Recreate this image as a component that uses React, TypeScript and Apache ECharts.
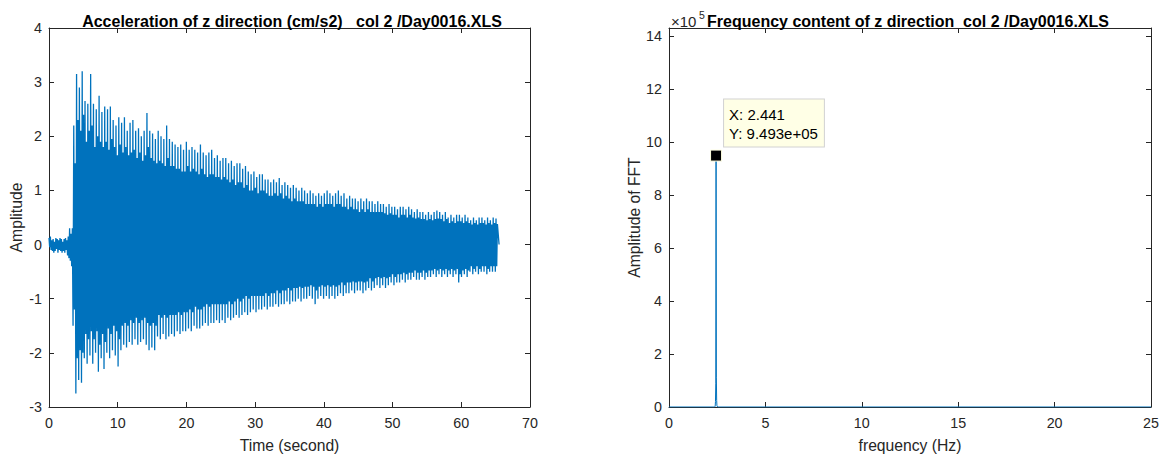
import React, { useEffect, useRef } from "react";
import * as echarts from "echarts";

// ---------- Left panel: acceleration record ----------
// Pre-event noise, sampled every 0.1 s from t = 0 s
const quietStep = 0.1;
const quietNoise = [
  0.12, -0.05, 0.15, -0.1, 0.08, -0.12, 0.1, -0.15, 0.05, -0.12,
  0.12, -0.08, 0.1, -0.15, 0.08, -0.1, 0.12, -0.12, 0.1, -0.15,
  0.05, -0.12, 0.1, -0.15, 0.12, -0.1, 0.08, -0.2, 0.15, -0.25,
  0.3, -0.3, 0.2, -0.4, 0.3,
];
// Extrema, per cycle of the 2.441 Hz response:
// outer trough, outer peak, then the smaller inner dip and rise that fill the band's core
const cycleStart = 3.5;
const cycleFrequency = 2.441;
const troughs = [
  -1.5, -2.75, -2.5, -2.55, -2.1, -2.2, -2.05, -2.2, -2.0, -2.35,
  -2.1, -2.3, -2.0, -2.1, -1.95, -2.05, -2.25, -1.95, -1.85, -1.9,
  -1.8, -1.85, -1.75, -1.85, -1.8, -1.75, -1.85, -1.95, -1.9, -1.95,
  -1.7, -1.75, -1.65, -1.75, -1.7, -1.65, -1.7, -1.6, -1.65, -1.6,
  -1.6, -1.55, -1.6, -1.5, -1.55, -1.55, -1.5, -1.45, -1.5, -1.45,
  -1.45, -1.4, -1.45, -1.4, -1.45, -1.35, -1.4, -1.35, -1.3, -1.35,
  -1.3, -1.25, -1.3, -1.25, -1.2, -1.25, -1.2, -1.2, -1.15, -1.2,
  -1.15, -1.15, -1.1, -1.15, -1.1, -1.1, -1.05, -1.1, -1.05, -1.05,
  -1.0, -1.05, -1.0, -1.0, -0.95, -1.0, -1.1, -1.0, -0.95, -1.0,
  -0.95, -1.0, -0.95, -1.0, -0.95, -0.9, -0.95, -0.9, -0.9, -0.85,
  -0.9, -0.85, -0.85, -0.9, -0.85, -0.8, -0.85, -0.8, -0.75, -0.8,
  -0.75, -0.8, -0.75, -0.7, -0.75, -0.7, -0.7, -0.65, -0.7, -0.65,
  -0.65, -0.6, -0.65, -0.65, -0.6, -0.65, -0.6, -0.6, -0.55, -0.6,
  -0.55, -0.6, -0.55, -0.6, -0.55, -0.6, -0.55, -0.7, -0.6, -0.55,
  -0.6, -0.5, -0.55, -0.5, -0.55, -0.5, -0.5, -0.55, -0.5, -0.5,
  -0.5,
];
const peaks = [
  2.2, 3.15, 2.9, 3.2, 2.65, 2.6, 3.15, 2.6, 2.5, 2.75,
  2.45, 2.55, 2.5, 2.55, 2.3, 2.2, 2.35, 2.25, 2.35, 2.1,
  2.25, 2.3, 2.1, 2.15, 2.0, 2.1, 2.43, 2.1, 2.05, 1.95,
  2.1, 2.0, 1.95, 2.2, 1.95, 1.9, 1.85, 1.8, 1.85, 1.75,
  1.9, 1.75, 1.8, 1.75, 1.7, 1.85, 1.7, 1.65, 1.7, 1.75,
  1.6, 1.65, 1.55, 1.6, 1.6, 1.5, 1.55, 1.45, 1.5, 1.5,
  1.4, 1.45, 1.35, 1.3, 1.35, 1.25, 1.3, 1.3, 1.2, 1.2,
  1.15, 1.2, 1.15, 1.23, 1.1, 1.15, 1.1, 1.05, 1.1, 1.05,
  1.0, 1.05, 1.0, 0.95, 1.0, 0.95, 0.9, 0.95, 0.9, 0.95,
  1.0, 0.95, 0.9, 0.95, 1.0, 0.9, 0.95, 0.85, 0.9, 0.85,
  0.85, 0.8, 0.85, 0.8, 0.85, 0.8, 0.8, 0.75, 0.8, 0.75,
  0.75, 0.7, 0.75, 0.7, 0.7, 0.65, 0.7, 0.7, 0.65, 0.7,
  0.65, 0.6, 0.65, 0.6, 0.6, 0.55, 0.6, 0.55, 0.6, 0.63,
  0.6, 0.55, 0.6, 0.5, 0.55, 0.5, 0.55, 0.55, 0.5, 0.55,
  0.5, 0.45, 0.5, 0.45, 0.5, 0.5, 0.45, 0.5, 0.45, 0.5,
  0.48,
];
const innerLows = [
  -1.2, -2.1, -1.95, -2.0, -1.65, -1.75, -1.6, -1.75, -1.6, -1.85,
  -1.65, -1.8, -1.55, -1.65, -1.5, -1.6, -1.75, -1.5, -1.45, -1.5,
  -1.4, -1.45, -1.35, -1.45, -1.4, -1.35, -1.45, -1.5, -1.45, -1.5,
  -1.3, -1.35, -1.3, -1.35, -1.3, -1.3, -1.3, -1.25, -1.3, -1.25,
  -1.25, -1.2, -1.25, -1.15, -1.2, -1.2, -1.15, -1.1, -1.15, -1.1,
  -1.1, -1.1, -1.1, -1.1, -1.1, -1.05, -1.1, -1.05, -1.0, -1.05,
  -1.0, -0.95, -1.0, -0.95, -0.95, -0.95, -0.95, -0.95, -0.9, -0.95,
  -0.9, -0.9, -0.85, -0.9, -0.85, -0.85, -0.8, -0.85, -0.8, -0.8,
  -0.78, -0.8, -0.78, -0.78, -0.75, -0.78, -0.85, -0.78, -0.75, -0.78,
  -0.75, -0.78, -0.75, -0.78, -0.75, -0.7, -0.75, -0.7, -0.7, -0.68,
  -0.7, -0.68, -0.68, -0.7, -0.68, -0.62, -0.68, -0.62, -0.6, -0.62,
  -0.6, -0.62, -0.6, -0.55, -0.6, -0.55, -0.55, -0.52, -0.55, -0.52,
  -0.52, -0.48, -0.52, -0.52, -0.48, -0.52, -0.48, -0.48, -0.45, -0.48,
  -0.45, -0.48, -0.45, -0.48, -0.45, -0.48, -0.45, -0.55, -0.48, -0.45,
  -0.48, -0.4, -0.45, -0.4, -0.45, -0.4, -0.4, -0.45, -0.4, -0.4,
  -0.4,
];
const innerHighs = [
  1.5, 2.3, 2.1, 2.4, 1.9, 2.1, 2.2, 1.8, 2.0, 1.9,
  1.8, 1.9, 1.75, 1.95, 1.8, 1.65, 1.85, 1.7, 1.8, 1.65,
  1.7, 1.75, 1.6, 1.7, 1.55, 1.65, 1.8, 1.6, 1.55, 1.5,
  1.55, 1.5, 1.45, 1.6, 1.45, 1.45, 1.4, 1.4, 1.35, 1.35,
  1.45, 1.35, 1.4, 1.35, 1.3, 1.4, 1.3, 1.25, 1.3, 1.3,
  1.25, 1.25, 1.2, 1.25, 1.2, 1.15, 1.2, 1.1, 1.15, 1.15,
  1.05, 1.1, 1.0, 1.0, 1.05, 0.95, 1.0, 1.0, 0.95, 0.9,
  0.9, 0.95, 0.9, 0.95, 0.85, 0.9, 0.85, 0.8, 0.85, 0.8,
  0.8, 0.8, 0.75, 0.75, 0.75, 0.75, 0.7, 0.75, 0.7, 0.75,
  0.75, 0.75, 0.7, 0.75, 0.75, 0.7, 0.7, 0.65, 0.7, 0.65,
  0.65, 0.6, 0.65, 0.6, 0.65, 0.6, 0.6, 0.6, 0.6, 0.6,
  0.58, 0.55, 0.58, 0.55, 0.55, 0.5, 0.55, 0.55, 0.5, 0.55,
  0.5, 0.48, 0.5, 0.47, 0.47, 0.45, 0.47, 0.45, 0.47, 0.48,
  0.47, 0.43, 0.47, 0.4, 0.43, 0.4, 0.43, 0.43, 0.4, 0.43,
  0.4, 0.37, 0.4, 0.37, 0.4, 0.4, 0.37, 0.4, 0.37, 0.4,
  0.38,
];
const recordEnd = [65.5, 0.0];

const timeTicks = { min: 0, max: 70, interval: 10 };
const accelTicks = { min: -3, max: 4, interval: 1 };

// ---------- Right panel: FFT ----------
const peakFrequency = 2.441;
const peakAmplitude = 949300;
const fftFrequencies = [0, 2.36, 2.395, 2.41, 2.426, peakFrequency, 2.456, 2.472, 2.487, 2.52, 25];
const fftAmplitudes = [0, 0, 3000, 20000, 90000, peakAmplitude, 110000, 25000, 5000, 0, 0];
const freqTicks = { min: 0, max: 25, interval: 5 };
const fftTicks = { min: 0, max: 1431000, interval: 200000 };

const FONT = '"Liberation Sans", Arial, Helvetica, sans-serif';
const AXIS = "#262626";
const LINE = "#0072BD";
const TICK_FONT = 14.3;
const NAME_FONT = 15.7;

function buildAccel(): number[][] {
  const out: number[][] = [];
  quietNoise.forEach((v, i) => out.push([+(i * quietStep).toFixed(2), v]));
  const quarter = 1 / (4 * cycleFrequency);
  for (let k = 0; k < troughs.length; k++) {
    const t0 = cycleStart + 4 * k * quarter;
    out.push([t0, troughs[k]]);
    out.push([t0 + quarter, peaks[k]]);
    out.push([t0 + 2 * quarter, innerLows[k]]);
    out.push([t0 + 3 * quarter, innerHighs[k]]);
  }
  out.push(recordEnd);
  return out;
}

function axisCommon(showLabels: boolean) {
  return {
    type: "value",
    axisLine: { show: true, onZero: false, lineStyle: { color: AXIS, width: 1 } },
    axisTick: { show: true, inside: true, length: 5, lineStyle: { color: AXIS, width: 1 } },
    splitLine: { show: false },
    axisLabel: {
      show: showLabels,
      color: AXIS,
      fontSize: TICK_FONT,
      fontFamily: FONT,
    },
  };
}

export default function App() {
  const ref = useRef<HTMLDivElement>(null);
  useEffect(() => {
    if (!ref.current) return;
    const chart = echarts.init(ref.current, null, { renderer: "svg" });
    const accelData = buildAccel();
    const fftData = fftFrequencies.map((f, i) => [f, fftAmplitudes[i]]);
    const yText = "Y: " + peakAmplitude.toExponential(3).replace(/e\+(\d)$/, "e+0$1");

    const nameStyle = { color: AXIS, fontSize: NAME_FONT, fontFamily: FONT };
    const titleStyle = { fontSize: 16, fontWeight: "bold", color: "#000", fontFamily: FONT };

    chart.setOption({
      animation: false,
      backgroundColor: "#ffffff",
      textStyle: { fontFamily: FONT },
      title: [
        {
          text: "Acceleration of z direction (cm/s2)   col 2 /Day0016.XLS",
          left: 287,
          top: 8,
          textAlign: "center",
          textStyle: titleStyle,
        },
        {
          text: "Frequency content of z direction  col 2 /Day0016.XLS",
          left: 903,
          top: 8,
          textAlign: "center",
          textStyle: titleStyle,
        },
      ],
      grid: [
        { left: 49, top: 28, width: 481, height: 379, containLabel: false },
        { left: 669, top: 28, width: 482, height: 379, containLabel: false },
      ],
      xAxis: [
        {
          ...axisCommon(true),
          gridIndex: 0,
          position: "bottom",
          ...timeTicks,
          axisLabel: { ...axisCommon(true).axisLabel, margin: 9 },
          name: "Time (second)",
          nameLocation: "middle",
          nameGap: 30,
          nameTextStyle: nameStyle,
        },
        { ...axisCommon(false), gridIndex: 0, position: "top", ...timeTicks },
        {
          ...axisCommon(true),
          gridIndex: 1,
          position: "bottom",
          ...freqTicks,
          axisLabel: { ...axisCommon(true).axisLabel, margin: 9 },
          name: "frequency (Hz)",
          nameLocation: "middle",
          nameGap: 30,
          nameTextStyle: nameStyle,
        },
        { ...axisCommon(false), gridIndex: 1, position: "top", ...freqTicks },
      ],
      yAxis: [
        {
          ...axisCommon(true),
          gridIndex: 0,
          position: "left",
          ...accelTicks,
          axisLabel: { ...axisCommon(true).axisLabel, margin: 7 },
          name: "Amplitude",
          nameLocation: "middle",
          nameGap: 25,
          nameTextStyle: nameStyle,
        },
        { ...axisCommon(false), gridIndex: 0, position: "right", ...accelTicks },
        {
          ...axisCommon(true),
          gridIndex: 1,
          position: "left",
          ...fftTicks,
          axisLabel: {
            ...axisCommon(true).axisLabel,
            margin: 7,
            formatter: (v: number) => (Math.round(v) % fftTicks.interval === 0 ? String(v / 1e5) : ""),
          },
          name: "Amplitude of FFT",
          nameLocation: "middle",
          nameGap: 27,
          nameTextStyle: nameStyle,
        },
        { ...axisCommon(false), gridIndex: 1, position: "right", ...fftTicks },
      ],
      graphic: [
        {
          type: "text",
          x: 671,
          y: 21,
          style: { text: "×10", fontSize: 15, fontFamily: FONT, fill: AXIS, verticalAlign: "middle", align: "left" },
        },
        {
          type: "text",
          x: 699,
          y: 15,
          style: { text: "5", fontSize: 10.5, fontFamily: FONT, fill: AXIS, verticalAlign: "middle", align: "left" },
        },
      ],
      series: [
        {
          type: "line",
          xAxisIndex: 0,
          yAxisIndex: 0,
          data: accelData,
          showSymbol: false,
          symbol: "none",
          silent: true,
          lineStyle: { color: LINE, width: 1.3 },
        },
        {
          type: "line",
          xAxisIndex: 2,
          yAxisIndex: 2,
          data: fftData,
          showSymbol: false,
          symbol: "none",
          silent: true,
          lineStyle: { color: LINE, width: 1 },
          markPoint: {
            silent: true,
            symbol: "rect",
            symbolSize: 11,
            itemStyle: { color: "#000000", borderColor: "#FFFFE1", borderWidth: 1 },
            label: {
              show: true,
              position: [14, -50],
              align: "left",
              verticalAlign: "top",
              formatter: "X: " + peakFrequency + "\n" + yText,
              fontSize: 15,
              lineHeight: 19,
              fontFamily: FONT,
              color: "#000",
              backgroundColor: "#FFFFE6",
              borderColor: "#D2D2D2",
              borderWidth: 1,
              padding: [5, 6, 4, 5],
            },
            data: [{ coord: [peakFrequency, peakAmplitude] }],
          },
        },
      ],
    });
    return () => chart.dispose();
  }, []);

  return (
    <div
      ref={ref}
      style={{ position: "absolute", left: 0, top: 0, width: 1163, height: 458, background: "#fff" }}
    />
  );
}
